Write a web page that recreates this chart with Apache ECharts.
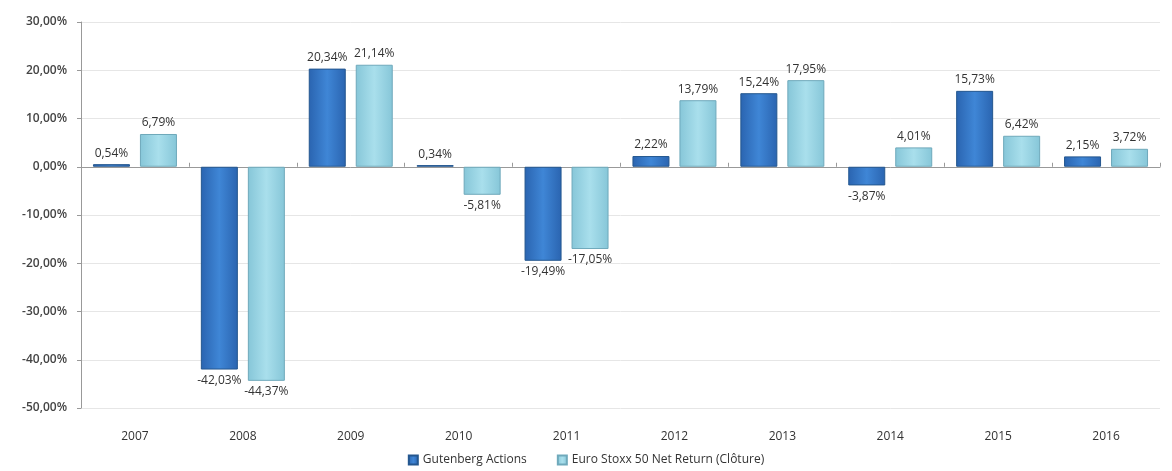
<!DOCTYPE html>
<html>
<head>
<meta charset="utf-8">
<script src="https://cdn.jsdelivr.net/npm/echarts@6/dist/echarts.min.js"></script>
<style>
  html, body { margin: 0; padding: 0; background: #fff; }
  #chart { width: 1172px; height: 471px; }
</style>
</head>
<body>
<div id="chart"></div>
<script>
var years = ['2007', '2008', '2009', '2010', '2011', '2012', '2013', '2014', '2015', '2016'];
var gutenberg = [0.54, -42.03, 20.34, 0.34, -19.49, 2.22, 15.24, -3.87, 15.73, 2.15];
var stoxx = [6.79, -44.37, 21.14, -5.81, -17.05, 13.79, 17.95, 4.01, 6.42, 3.72];
var seriesNames = ['Gutenberg Actions', 'Euro Stoxx 50 Net Return (Clôture)'];

var dom = document.getElementById("chart");
var myChart = echarts.init(dom);

function fmt(v) {
    return v.toFixed(2).replace('.', ',') + '%';
}

function withLabels(arr) {
    return arr.map(function (v) {
        return {
            value: v,
            label: { position: v < 0 ? 'bottom' : 'top' }
        };
    });
}

function barGrad(edge, mid) {
    return new echarts.graphic.LinearGradient(0, 0, 1, 0, [
        { offset: 0, color: edge },
        { offset: 0.5, color: mid },
        { offset: 1, color: edge }
    ]);
}

var labelStyle = {
    show: true,
    fontFamily: 'Open Sans',
    fontSize: 12,
    color: '#333',
    distance: 5,
    formatter: function (p) { return fmt(p.value); }
};

var option = {
    animation: false,
    textStyle: { fontFamily: 'Open Sans' },
    legend: {
        bottom: 0,
        left: 'center',
        itemWidth: 9,
        itemHeight: 9,
        itemGap: 30,
        icon: 'rect',
        textStyle: { fontSize: 12, color: '#333' },
        data: seriesNames
    },
    grid: {
        left: 81,
        right: 12,
        top: 22,
        bottom: 63
    },
    xAxis: [{
        type: 'category',
        data: years,
        position: 'bottom',
        axisLine: { show: false, onZero: false },
        axisTick: { show: false },
        axisLabel: { fontSize: 12, color: '#333', margin: 23 }
    }, {
        type: 'category',
        data: years,
        axisLine: { onZero: true, lineStyle: { color: '#999' } },
        axisTick: { show: true, length: 4, lineStyle: { color: '#999' } },
        axisLabel: { show: false }
    }],
    yAxis: {
        type: 'value',
        min: -50,
        max: 30,
        interval: 10,
        axisLine: { show: true, lineStyle: { color: '#999' } },
        axisTick: { show: true, length: 4, lineStyle: { color: '#999' } },
        splitLine: { lineStyle: { color: '#e6e6e6' } },
        axisLabel: {
            fontSize: 12,
            fontWeight: 600,
            color: '#444',
            margin: 14,
            formatter: function (v) { return fmt(v); }
        }
    },
    series: [{
        name: seriesNames[0],
        type: 'bar',
        barWidth: 37,
        barGap: '27%',
        data: withLabels(gutenberg),
        itemStyle: {
            color: barGrad('#2a64b0', '#3f86d6'),
            borderColor: '#24578f',
            borderWidth: 1
        },
        label: labelStyle
    }, {
        name: seriesNames[1],
        type: 'bar',
        barWidth: 37,
        data: withLabels(stoxx),
        itemStyle: {
            color: barGrad('#86c6d8', '#a9dfec'),
            borderColor: '#6fa9bb',
            borderWidth: 1
        },
        label: labelStyle
    }]
};

myChart.setOption(option, true);

window.onresize = function () {
    myChart.resize();
};
</script>
</body>
</html>
